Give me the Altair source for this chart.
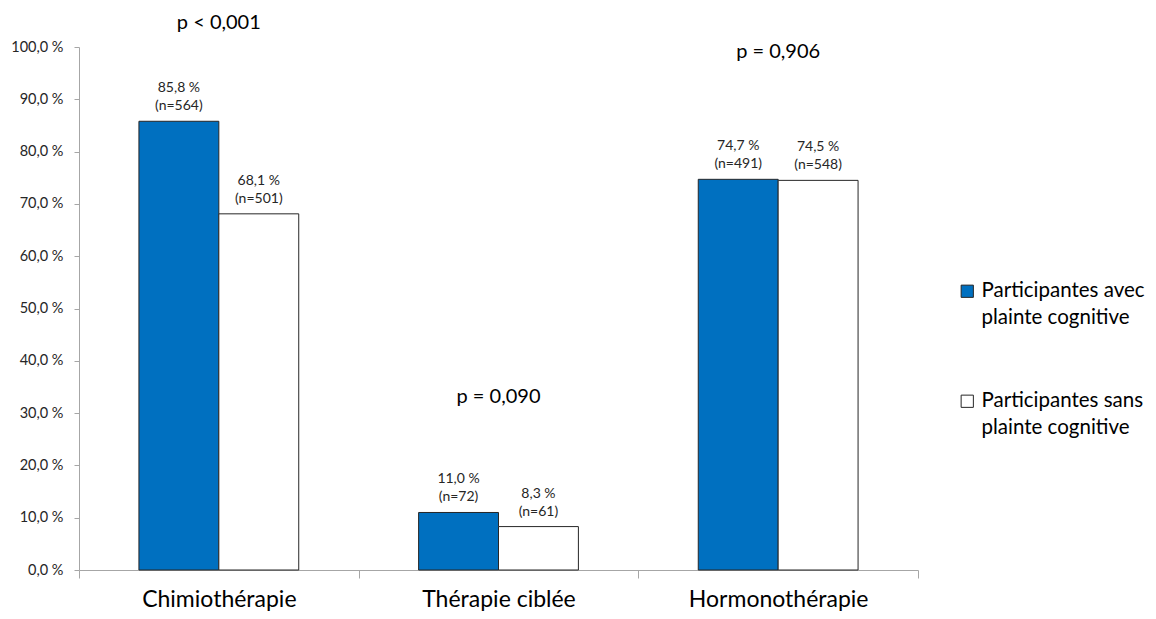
import altair as alt
import pandas as pd

categories = ["Chimiothérapie", "Thérapie ciblée", "Hormonothérapie"]
series = ["Participantes avec plainte cognitive", "Participantes sans plainte cognitive"]
pct_avec = [85.8, 11.0, 74.7]
n_avec = [564, 72, 491]
pct_sans = [68.1, 8.3, 74.5]
n_sans = [501, 61, 548]
p_labels = ["p < 0,001", "p = 0,090", "p = 0,906"]
p_label_height = [104.6, 33.1, 99.0]

rows = []
for i, c in enumerate(categories):
    rows.append({"cat": c, "serie": series[0], "pct": pct_avec[i], "n": n_avec[i]})
    rows.append({"cat": c, "serie": series[1], "pct": pct_sans[i], "n": n_sans[i]})
df = pd.DataFrame(rows)
df["label"] = [
    f"{p:.1f}".replace(".", ",") + " %\n(n=" + str(n) + ")" for p, n in zip(df["pct"], df["n"])
]
pdf = pd.DataFrame({"cat": categories, "p": p_labels, "h": p_label_height})

FONT = "Lato"
AXIS_GRAY = "#a6a6a6"

xscale = alt.Scale(domain=categories, paddingInner=0, paddingOuter=0)
offscale = alt.Scale(domain=series, paddingInner=0, paddingOuter=0.75)
yscale = alt.Scale(domain=[0, 100], nice=False)

x_enc = alt.X(
    "cat:N",
    scale=xscale,
    sort=categories,
    axis=alt.Axis(
        title=None,
        labelAngle=0,
        labelFontSize=23,
        labelColor="#000000",
        labelFont=FONT,
        labelBaseline="alphabetic",
        labelPadding=28,
        tickBand="extent",
        tickSize=8,
        tickColor=AXIS_GRAY,
        domainColor=AXIS_GRAY,
        grid=False,
    ),
)

bars = alt.Chart(df).mark_bar(stroke="#262626", strokeWidth=1).encode(
    x=x_enc,
    xOffset=alt.XOffset("serie:N", sort=series, scale=offscale),
    y=alt.Y(
        "pct:Q",
        scale=yscale,
        axis=alt.Axis(
            title=None,
            values=list(range(0, 101, 10)),
            labelExpr="replace(format(datum.value, '.1f'), '.', ',') + ' %'",
            labelFontSize=14.5,
            labelFont=FONT,
            labelColor="#262626",
            tickSize=5,
            tickColor=AXIS_GRAY,
            domainColor=AXIS_GRAY,
            grid=False,
            labelPadding=11,
        ),
    ),
    color=alt.Color(
        "serie:N",
        sort=series,
        scale=alt.Scale(domain=series, range=["#0070C0", "#FFFFFF"]),
        legend=alt.Legend(
            title=None,
            orient="none",
            legendX=878,
            legendY=234,
            symbolType="square",
            symbolSize=150,
            symbolStrokeColor="#262626",
            symbolStrokeWidth=1,
            labelFontSize=20.5,
            labelFont=FONT,
            labelColor="#000000",
            labelLimit=300,
            rowPadding=62,
            labelExpr="datum.label == 'Participantes avec plainte cognitive' ? ['Participantes avec', 'plainte cognitive'] : ['Participantes sans', 'plainte cognitive']",
        ),
    ),
)

labels = alt.Chart(df).mark_text(
    baseline="bottom", dy=-26, fontSize=14, font=FONT, color="#262626", lineBreak="\n", lineHeight=18
).encode(
    x=alt.X("cat:N", scale=xscale, sort=categories),
    xOffset=alt.XOffset("serie:N", sort=series, scale=offscale),
    y=alt.Y("pct:Q", scale=yscale),
    text="label:N",
)

plabels = alt.Chart(pdf).mark_text(
    baseline="middle", fontSize=20, font=FONT, color="#000000"
).encode(
    x=alt.X("cat:N", scale=xscale, sort=categories),
    y=alt.Y("h:Q", scale=yscale),
    text="p:N",
)

chart = (
    alt.layer(bars, labels, plabels)
    .properties(
        width=839,
        height=523,
        autosize=alt.AutoSizeParams(type="none"),
        padding={"left": 71, "top": 39, "right": 230, "bottom": 41},
    )
    .configure(font=FONT, style={"guide-label": {"lineHeight": 27}})
    .configure_view(stroke=None)
)

chart.save("out.html", embed_options={"renderer": "svg", "actions": False})
